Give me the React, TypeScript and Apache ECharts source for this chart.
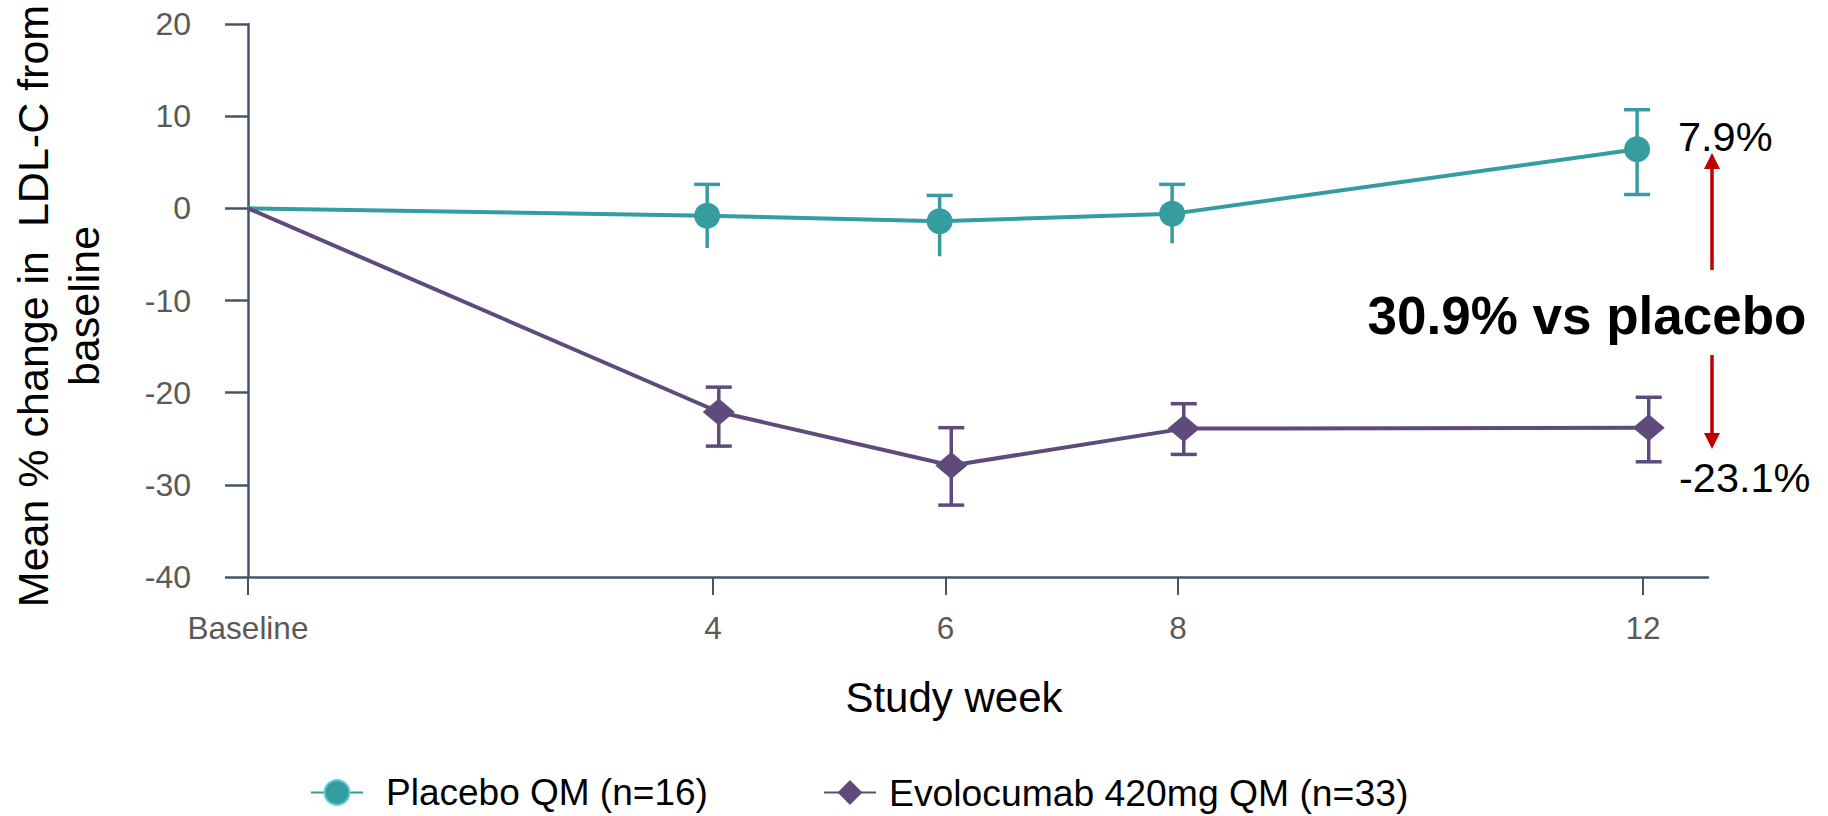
import React, { useEffect, useRef } from "react";
import * as echarts from "echarts";

// ---- data ----
const weeks = [0, 4, 6, 8, 12];
const xTickWeeks = [0, 4, 6, 8, 12];
const placeboName = "Placebo QM (n=16)";
const evoName = "Evolocumab 420mg QM (n=33)";
const placeboMean = [0, -0.8, -1.4, -0.6, 6.4];
const placeboUpper = [null, 2.6, 1.4, 2.6, 10.7];
const placeboLower = [null, -4.3, -5.2, -3.8, 1.5];
const placeboLowerCap = [false, false, false, false, true];
const evoMean = [0, -22.1, -27.9, -23.9, -23.8];
const evoUpper = [null, -19.4, -23.8, -21.2, -20.5];
const evoLower = [null, -25.8, -32.2, -26.7, -27.5];
const evoLowerCap = [false, true, true, true, true];
const yMin = -40;
const yMax = 20;
const yInterval = 10;
const xMax = 12.56;
const placeboEndLabel = "7.9%";
const evoEndLabel = "-23.1%";
const diffLabel = "30.9% vs placebo";

// ---- styles ----
const TEAL = "#359c9f";
const PURPLE = "#5e4b7c";
const AXIS = "#44546a";
const TICKTXT = "#595959";
const RED = "#c00000";
const FONT = "'Liberation Sans', Arial, Helvetica, sans-serif";
const PLACEBO_DODGE = -0.05;
const EVO_DODGE = 0.05;

function dodge(w: number, d: number) {
  return w > 0 ? w + d : w;
}

function lineData(mean: number[], d: number, sym: string) {
  return weeks.map((w, i) => ({
    value: [dodge(w, d), mean[i]],
    symbol: w === 0 ? "none" : sym,
  }));
}

function errData(lo: (number | null)[], hi: (number | null)[], caps: boolean[], d: number) {
  const out: any[] = [];
  weeks.forEach((w, i) => {
    if (lo[i] == null || hi[i] == null) return;
    out.push([dodge(w, d), lo[i], hi[i], caps[i] ? 1 : 0]);
  });
  return out;
}

function makeErrRender(color: string) {
  return (params: any, api: any) => {
    const x = api.value(0);
    const lo = api.value(1);
    const hi = api.value(2);
    const capLow = api.value(3);
    const top = api.coord([x, hi]);
    const bot = api.coord([x, lo]);
    const hw = 13;
    const st = { stroke: color, lineWidth: 3.5 };
    const children: any[] = [
      { type: "line", shape: { x1: top[0], y1: top[1], x2: bot[0], y2: bot[1] }, style: st },
      { type: "line", shape: { x1: top[0] - hw, y1: top[1], x2: top[0] + hw, y2: top[1] }, style: st },
    ];
    if (capLow) {
      children.push({ type: "line", shape: { x1: bot[0] - hw, y1: bot[1], x2: bot[0] + hw, y2: bot[1] }, style: st });
    }
    return { type: "group", children };
  };
}

export default function App() {
  const ref = useRef<HTMLDivElement>(null);

  useEffect(() => {
    if (!ref.current) return;
    const chart = echarts.init(ref.current, null, { renderer: "svg" });
    const option: any = {
      animation: false,
      textStyle: { fontFamily: FONT },
      grid: { left: 248, right: 120, top: 24, bottom: 239, containLabel: false },
      xAxis: {
        type: "value",
        min: 0,
        max: xMax,
        splitLine: { show: false },
        axisLine: { show: true, onZero: false, lineStyle: { color: AXIS, width: 2.5 } },
        axisTick: { show: true, customValues: xTickWeeks, length: 18, lineStyle: { color: AXIS, width: 2 } },
        axisLabel: {
          customValues: xTickWeeks,
          formatter: (v: number) => (v === 0 ? "Baseline" : String(v)),
          fontSize: 31.5,
          color: TICKTXT,
          margin: 35,
          fontFamily: FONT,
        },
      },
      yAxis: {
        type: "value",
        min: yMin,
        max: yMax,
        interval: yInterval,
        splitLine: { show: false },
        axisLine: { show: true, onZero: false, lineStyle: { color: AXIS, width: 2.5 } },
        axisTick: { show: true, length: 23, lineStyle: { color: AXIS, width: 2.5 } },
        axisLabel: { fontSize: 32, color: TICKTXT, margin: 57, fontFamily: FONT },
      },
      legend: [
        {
          data: [{ name: placeboName, itemStyle: { borderColor: "#62cbd2", borderWidth: 2 } }],
          left: 310,
          top: 774,
          padding: 0,
          itemWidth: 52,
          itemHeight: 31,
          selectedMode: false,
          textStyle: { fontSize: 37, color: "#000", fontFamily: FONT, padding: [0, 0, 0, 18] },
        },
        {
          data: [{ name: evoName }],
          left: 823,
          top: 774,
          padding: 0,
          itemWidth: 52,
          itemHeight: 31,
          selectedMode: false,
          textStyle: { fontSize: 37.3, color: "#000", fontFamily: FONT, padding: [0, 0, 0, 8] },
        },
      ],
      series: [
        {
          type: "custom",
          name: "placebo-err",
          renderItem: makeErrRender(TEAL),
          data: errData(placeboLower, placeboUpper, placeboLowerCap, PLACEBO_DODGE),
          encode: { x: 0, y: [1, 2] },
          z: 1,
          silent: true,
        },
        {
          type: "custom",
          name: "evo-err",
          renderItem: makeErrRender(PURPLE),
          data: errData(evoLower, evoUpper, evoLowerCap, EVO_DODGE),
          encode: { x: 0, y: [1, 2] },
          z: 1,
          silent: true,
        },
        {
          type: "line",
          name: placeboName,
          data: lineData(placeboMean, PLACEBO_DODGE, "circle"),
          symbol: "circle",
          symbolSize: 26,
          showAllSymbol: true,
          lineStyle: { color: TEAL, width: 4 },
          itemStyle: { color: TEAL },
          z: 3,
          silent: true,
        },
        {
          type: "line",
          name: evoName,
          data: lineData(evoMean, EVO_DODGE, "diamond"),
          symbol: "diamond",
          symbolSize: [32, 27],
          showAllSymbol: true,
          lineStyle: { color: PURPLE, width: 4 },
          itemStyle: { color: PURPLE },
          z: 3,
          silent: true,
        },
      ],
      graphic: [
        {
          type: "text",
          x: 58,
          y: 306,
          rotation: Math.PI / 2,
          style: {
            text: "Mean % change in  LDL-C from\nbaseline",
            fontSize: 43,
            fontFamily: FONT,
            fill: "#000",
            align: "center",
            verticalAlign: "middle",
            lineHeight: 51,
          },
        },
        {
          type: "text",
          x: 954,
          y: 697,
          style: { text: "Study week", fontSize: 42, fontFamily: FONT, fill: "#000", align: "center", verticalAlign: "middle" },
        },
        {
          type: "text",
          x: 1678,
          y: 136,
          style: { text: placeboEndLabel, fontSize: 41.5, fontFamily: FONT, fill: "#000", align: "left", verticalAlign: "middle" },
        },
        {
          type: "text",
          x: 1679,
          y: 477,
          style: { text: evoEndLabel, fontSize: 41.5, fontFamily: FONT, fill: "#000", align: "left", verticalAlign: "middle" },
        },
        {
          type: "text",
          x: 1587,
          y: 315,
          style: { text: diffLabel, fontSize: 53, fontWeight: "bold", fontFamily: FONT, fill: "#000", align: "center", verticalAlign: "middle" },
        },
        { type: "line", shape: { x1: 1712, y1: 270, x2: 1712, y2: 168 }, style: { stroke: RED, lineWidth: 3.5 } },
        { type: "polygon", shape: { points: [[1704, 169], [1720, 169], [1712, 153]] }, style: { fill: RED } },
        { type: "line", shape: { x1: 1712, y1: 355, x2: 1712, y2: 434 }, style: { stroke: RED, lineWidth: 3.5 } },
        { type: "polygon", shape: { points: [[1704, 433], [1720, 433], [1712, 449]] }, style: { fill: RED } },
      ],
    };
    chart.setOption(option);
    return () => chart.dispose();
  }, []);

  return (
    <div
      ref={ref}
      style={{ position: "fixed", left: 0, top: 0, width: 1828, height: 816, background: "#fff" }}
    />
  );
}
